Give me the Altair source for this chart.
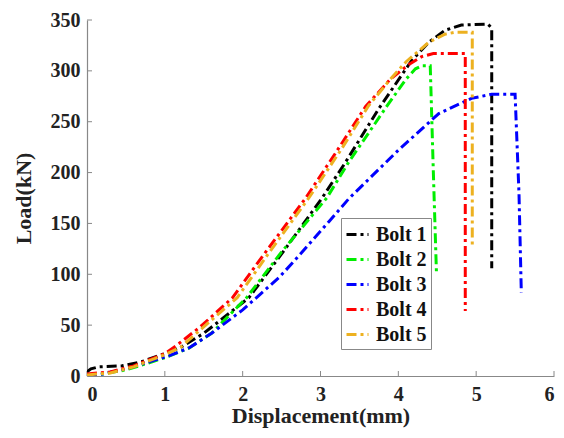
import altair as alt
import pandas as pd

x_ticks = [0, 1, 2, 3, 4, 5, 6]
y_ticks = [0, 50, 100, 150, 200, 250, 300, 350]
series = ["Bolt 1", "Bolt 2", "Bolt 3", "Bolt 4", "Bolt 5"]
colors = ["#000000", "#00ee00", "#0000ff", "#ff0000", "#edb120"]

b1_x = [0, 0.05, 0.15, 0.45, 0.7, 1.0, 1.2, 1.5, 1.75, 2.08, 2.5, 3.02, 3.32, 3.75, 4.17, 4.39, 4.6, 4.81, 5.15, 5.2, 5.2]
b1_y = [4, 7, 9, 10, 14, 22, 28, 42, 57, 77, 120, 175, 210, 263, 310, 328, 340, 345, 346, 342, 106]

b2_x = [0, 0.2, 0.5, 0.8, 1.0, 1.3, 1.6, 2.05, 2.5, 3.08, 3.36, 3.85, 4.1, 4.22, 4.3, 4.41, 4.45, 4.49]
b2_y = [0, 2, 6, 13, 18, 27, 42, 77, 122, 175, 210, 265, 292, 302, 305, 305, 200, 101]

b3_x = [0, 0.2, 0.5, 0.8, 1.06, 1.32, 1.6, 2.0, 2.47, 2.72, 3.11, 3.36, 4.0, 4.52, 4.94, 5.2, 5.5, 5.55, 5.58]
b3_y = [0, 2, 7, 14, 20, 28, 42, 65, 97, 118, 152, 174, 222, 258, 273, 277, 277, 180, 82]

b4_x = [0, 0.3, 0.6, 1.0, 1.15, 1.45, 1.87, 2.2, 2.5, 2.81, 3.2, 3.58, 3.9, 4.13, 4.3, 4.45, 4.86, 4.86]
b4_y = [2, 4, 10, 22, 30, 48, 77, 112, 143, 175, 220, 265, 292, 306, 314, 317, 317, 64]

b5_x = [0, 0.3, 0.6, 1.0, 1.2, 1.45, 1.93, 2.3, 2.85, 3.26, 3.62, 3.9, 4.1, 4.39, 4.6, 4.73, 4.95, 4.95]
b5_y = [1, 3, 9, 21, 28, 45, 77, 117, 175, 222, 266, 292, 309, 328, 336, 338, 338, 129]

rows = []
for name, xs_, ys_ in zip(series, [b1_x, b2_x, b3_x, b4_x, b5_x], [b1_y, b2_y, b3_y, b4_y, b5_y]):
    for i, (xv, yv) in enumerate(zip(xs_, ys_)):
        rows.append({"bolt": name, "idx": i, "x": xv, "y": yv})
df = pd.DataFrame(rows)

W, H = 467, 356
FONT = "'Liberation Serif', 'Times New Roman', Times, 'DejaVu Serif', serif"
AXIS_C = "#888888"
dash = [10, 4, 3, 4]

xs = alt.Scale(domain=[0, 6], nice=False)
ys = alt.Scale(domain=[0, 350], nice=False)

lines = alt.Chart(df).mark_line(strokeWidth=3, strokeDash=dash, clip=True).encode(
    x=alt.X("x:Q", scale=xs, axis=alt.Axis(values=x_ticks, format="d", title="Displacement(mm)",
                                           labelPadding=8, titlePadding=1)),
    y=alt.Y("y:Q", scale=ys, axis=alt.Axis(values=y_ticks, format="d", title="Load(kN)",
                                           labelPadding=7, titlePadding=15)),
    color=alt.Color("bolt:N", scale=alt.Scale(domain=series, range=colors),
                    legend=alt.Legend(title=None, orient="none", legendX=254, legendY=198,
                                      symbolType="stroke", symbolSize=484, symbolStrokeWidth=3,
                                      symbolDash=dash, labelFont=FONT, labelFontSize=20,
                                      labelFontWeight="bold", labelColor="#111111",
                                      labelOffset=6, rowPadding=2, padding=4,
                                      strokeColor=AXIS_C, fillColor="white", labelLimit=200)),
    order=alt.Order("idx:Q"),
)

xt = alt.Chart(pd.DataFrame({"x": x_ticks})).mark_rule(color=AXIS_C, strokeWidth=1).encode(
    x=alt.X("x:Q", scale=xs), y=alt.value(H), y2=alt.value(H - 5))
yt = alt.Chart(pd.DataFrame({"y": y_ticks})).mark_rule(color=AXIS_C, strokeWidth=1).encode(
    y=alt.Y("y:Q", scale=ys), x=alt.value(0), x2=alt.value(5))

chart = alt.layer(xt, yt, lines).properties(
    width=W, height=H,
    autosize=alt.AutoSizeParams(type="none"),
    padding={"left": 79, "top": 12, "right": 2, "bottom": 54},
).configure_view(stroke=None).configure_axis(
    grid=False, tickSize=0, domainColor=AXIS_C, domainWidth=1.2,
    labelFont=FONT, labelFontSize=20, labelFontWeight="bold", labelColor="#222222",
    titleFont=FONT, titleFontSize=22, titleFontWeight="bold", titleColor="#222222",
)

chart.save("out.html", embed_options={"renderer": "svg", "actions": False})
